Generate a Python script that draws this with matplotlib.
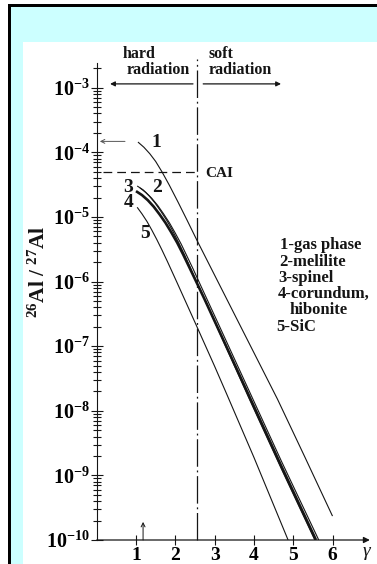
import numpy as np
import matplotlib
matplotlib.use('Agg')
import matplotlib.pyplot as plt
from matplotlib.patches import Rectangle
from matplotlib.ticker import FuncFormatter, FixedLocator, NullFormatter

W, H = 377, 564

# values: gamma and log10(26Al/27Al)
g1 = [1.05, 1.2, 1.35, 1.5, 1.66, 1.85, 2.07, 2.3, 2.55, 3.2, 4.0, 4.6, 5.3, 6.0]
l1 = [-3.84, -3.92, -4.02, -4.14, -4.30, -4.51, -4.77, -5.05, -5.36, -6.14, -7.10, -7.82, -8.72, -9.63]

g2 = [1.1, 1.25, 1.4, 1.55, 1.7, 1.85, 2.0, 2.15, 2.3, 2.45, 2.6, 2.85, 3.1, 3.9, 4.7, 5.65]
l2 = [-4.55, -4.62, -4.71, -4.82, -4.95, -5.09, -5.25, -5.42, -5.61, -5.80, -6.00, -6.33, -6.66, -7.72, -8.78, -10.0]

g3 = [1.03, 1.18, 1.33, 1.48, 1.63, 1.78, 1.93, 2.08, 2.23, 2.38, 2.53, 2.78, 3.03, 3.9, 4.7, 5.55]
l3 = [-4.52, -4.58, -4.67, -4.78, -4.91, -5.05, -5.21, -5.39, -5.58, -5.78, -5.99, -6.32, -6.66, -7.84, -8.90, -10.0]

g4 = [1.0, 1.15, 1.3, 1.45, 1.6, 1.75, 1.9, 2.05, 2.2, 2.35, 2.5, 2.75, 3.0, 3.9, 4.7, 5.58]
l4 = [-4.60, -4.66, -4.74, -4.84, -4.96, -5.09, -5.24, -5.40, -5.58, -5.77, -5.96, -6.28, -6.61, -7.80, -8.86, -10.0]

g5 = [1.03, 1.15, 1.28, 1.4, 1.53, 1.66, 1.8, 2.04, 2.27, 2.5, 3.0, 3.3, 4.0, 4.87]
l5 = [-4.85, -4.95, -5.07, -5.20, -5.35, -5.51, -5.69, -6.01, -6.32, -6.63, -7.31, -7.73, -8.72, -10.0]

gamma_split = 2.55
cai_level = 5e-5
x_ticks = [1, 2, 3, 4, 5, 6]
y_decades = [-10, -9, -8, -7, -6, -5, -4, -3]
legend_lines = ['1-gas phase', '2-melilite', '3-spinel', '4-corundum,', 'hibonite', '5-SiC']

plt.rcParams['font.family'] = 'Liberation Serif'
plt.rcParams['mathtext.fontset'] = 'custom'
plt.rcParams['mathtext.rm'] = 'Liberation Serif'
plt.rcParams['mathtext.it'] = 'Liberation Serif:italic'
plt.rcParams['mathtext.bf'] = 'Liberation Serif:bold'


def fx(x):
    return x / W


def fy(y):
    return 1 - y / H


fig = plt.figure(figsize=(W / 100, H / 100), dpi=100)
fig.patch.set_facecolor('white')
# slide frame: black edge, cyan band, white panel
fig.add_artist(Rectangle((fx(7.5), 0), 1, fy(4), color='black', lw=0, zorder=-10, transform=fig.transFigure))
fig.add_artist(Rectangle((fx(10.5), 0), 1, fy(6.5), color='#ccffff', lw=0, zorder=-9, transform=fig.transFigure))
fig.add_artist(Rectangle((fx(23), 0), 1, fy(42), color='white', lw=0, zorder=-8, transform=fig.transFigure))

ax = fig.add_axes([fx(96.7), fy(540), (371.8 - 96.7) / W, (540 - 58.7) / H])
ax.patch.set_facecolor('none')
ax.set_yscale('log')
ax.set_xlim(0, 7.0)
ax.set_ylim(1e-10, 10 ** -2.55)

ink = '#151515'
for g, l, w in [(g1, l1, 0.8), (g2, l2, 0.8), (g3, l3, 0.8), (g4, l4, 1.9), (g5, l5, 0.8)]:
    ax.plot(g, 10 ** np.array(l), color=ink, lw=w, solid_capstyle='butt')

# hard / soft boundary and CAI level
ax.plot([gamma_split, gamma_split], [1e-10, 10 ** -2.55], color=ink, lw=0.9,
        linestyle=(0, (22, 3, 1.5, 3)), clip_on=False)
ax.plot([0.16, gamma_split - 0.05], [cai_level, cai_level], color=ink, lw=0.9, linestyle=(0, (7, 4)))

for s in ['top', 'right', 'bottom']:
    ax.spines[s].set_visible(False)
ax.spines['left'].set_bounds(1e-10, 10 ** -2.62)
ax.spines['left'].set_color(ink)

major = [10.0 ** d for d in y_decades]
minor = [m * 10.0 ** d for d in y_decades for m in range(2, 10) if m * 10.0 ** d < 10 ** -2.62]
ax.yaxis.set_major_locator(FixedLocator(major))
ax.yaxis.set_minor_locator(FixedLocator(minor))
ax.yaxis.set_major_formatter(FuncFormatter(lambda v, _: r'$\mathbf{10^{%d}}$' % round(np.log10(v))))
ax.yaxis.set_minor_formatter(NullFormatter())
ax.tick_params(axis='y', which='major', direction='inout', length=8, width=0.8, color=ink,
               labelsize=14.5, pad=1)
ax.tick_params(axis='y', which='minor', direction='inout', length=6, width=0.8, color=ink)

ax.xaxis.set_major_locator(FixedLocator(x_ticks))
ax.set_xticklabels([str(t) for t in x_ticks], fontweight='bold')
ax.tick_params(axis='x', which='major', direction='inout', length=7, width=0.8, color=ink,
               labelsize=14, pad=1.5)
ax.tick_params(axis='x', which='minor', length=0)

# x axis with arrow head
ax.annotate('', xy=(6.95, 1e-10), xytext=(0, 1e-10), annotation_clip=False,
            arrowprops=dict(arrowstyle='-|>', lw=0.9, color=ink, mutation_scale=9, shrinkA=0, shrinkB=0))

# small arrows
ax.annotate('', xy=(0.08, 10 ** -3.83), xytext=(0.72, 10 ** -3.83),
            arrowprops=dict(arrowstyle='->', lw=0.7, color='#555555', mutation_scale=7, shrinkA=0, shrinkB=0))
ax.annotate('', xy=(1.18, 10 ** -9.72), xytext=(1.18, 1e-10),
            arrowprops=dict(arrowstyle='->', lw=0.7, color=ink, mutation_scale=7, shrinkA=0, shrinkB=0))
ax.annotate('', xy=(0.34, 10 ** -2.94), xytext=(2.45, 10 ** -2.94), annotation_clip=False,
            arrowprops=dict(arrowstyle='-|>', lw=0.9, color=ink, mutation_scale=7, shrinkA=0, shrinkB=0))
ax.annotate('', xy=(4.69, 10 ** -2.94), xytext=(2.71, 10 ** -2.94), annotation_clip=False,
            arrowprops=dict(arrowstyle='-|>', lw=0.9, color=ink, mutation_scale=7, shrinkA=0, shrinkB=0))

# radiation labels
bold = dict(fontweight='bold', color=ink, va='center', ha='left')
ax.text(0.67, 10 ** -2.47, 'hard', fontsize=11.5, **bold)
ax.text(0.77, 10 ** -2.73, 'radiation', fontsize=11.5, **bold)
ax.text(2.84, 10 ** -2.47, 'soft', fontsize=11.5, **bold)
ax.text(2.84, 10 ** -2.73, 'radiation', fontsize=11.5, **bold)
ax.text(2.75, 10 ** -4.32, 'CAI', fontsize=11, **bold)

# curve numbers
for txt, g, l in [('1', 1.51, -3.84), ('2', 1.53, -4.54), ('3', 0.80, -4.54),
                  ('4', 0.82, -4.78), ('5', 1.23, -5.25)]:
    ax.text(g, 10 ** l, txt, fontsize=14, fontweight='bold', color=ink, ha='center', va='center')

# legend block
for txt, x, y in zip(legend_lines, [280, 279, 278, 278, 290, 276], [245, 262, 278, 294, 310, 327]):
    fig.text(fx(x), fy(y), txt, fontsize=12, **bold)

fig.text(fx(39), fy(272), r'$^{\mathbf{26}}\mathbf{Al\ /\ }^{\mathbf{27}}\mathbf{Al}$', rotation=90,
         fontsize=15.5, color=ink, ha='center', va='center')
fig.text(fx(367), fy(553), r'$\gamma$', fontsize=14, color=ink, ha='center', va='center')

fig.savefig('out.png', dpi=100)
